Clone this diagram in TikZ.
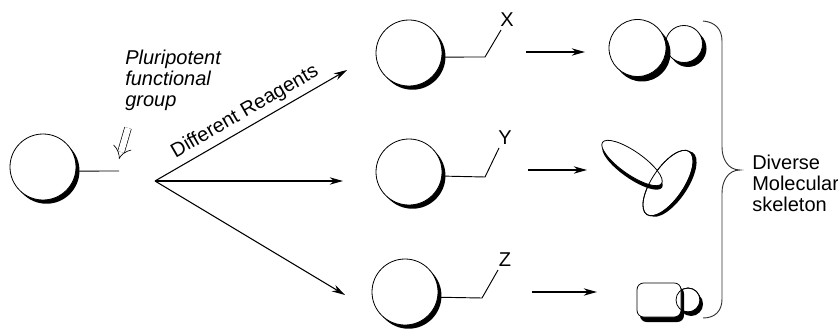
\documentclass[tikz,border=0pt]{standalone}
\usepackage{fontspec}
\setmainfont{Liberation Sans}
\usetikzlibrary{arrows.meta,shadows,shapes.geometric}
\tikzset{
	ball/.style={circle, draw, fill=white, inner sep=0pt, line width=0.6pt, minimum size=49.5pt,
		drop shadow={shadow xshift=2.6pt, shadow yshift=-2.8pt, opacity=1, fill=black}},
	link/.style={line width=0.7pt},
	react/.style={line width=0.8pt, -{Stealth[length=10pt, width=5.5pt]}},
	label/.style={inner sep=0pt, align=left, font=\fontsize{15}{15.8}\selectfont},
	outline/.style={line width=0.6pt}
}
\begin{document}
\begin{tikzpicture}[x=0.75pt, y=0.75pt]
	\useasboundingbox (0, 0) rectangle (838, 329);
	
	%%%%% START MATERIAL %%%%%
	\node[ball] (ballL) at (43, 162) {};
	\coordinate (stubL) at (119, 158);
	\draw[link] (ballL.-7) -- (stubL);
	
	\node[label, font=\fontsize{15}{15.8}\selectfont\itshape, anchor=north west] (pluri) at (125, 279) {Pluripotent\\functional\\group};
	\coordinate (pluriA) at (128, 201);
	\coordinate (pluriB) at (119, 170);
	\draw[line width=0.5pt, double, double distance=4.6pt, -{Implies}] (pluriA) -- (pluriB);
	
	%%%%% REAGENTS %%%%%
	\coordinate (hub) at (155, 148);
	\coordinate (tipX) at (347, 259);
	\coordinate (tipY) at (343, 148);
	\coordinate (tipZ) at (345, 34);
	\draw[react] (hub) -- (tipX);
	\draw[react, line width=1.1pt] (hub) -- (tipY);
	\draw[react] (hub) -- (tipZ);
	\node[label, rotate=30] (reagents) at (245, 217) {Different Reagents};
	
	%%%%% MIDDLE COLUMN %%%%%
	\node[ball] (ballX) at (409, 276) {};
	\coordinate (bendX) at (485, 272);
	\coordinate (endX) at (501, 299);
	\draw[link] (ballX.-7) -- (bendX) -- (endX);
	\node[label] (labX) at (507, 309) {X};
	
	\node[ball] (ballY) at (409, 157) {};
	\coordinate (bendY) at (485, 152);
	\coordinate (endY) at (499, 181);
	\draw[link] (ballY.-7) -- (bendY) -- (endY);
	\node[label] (labY) at (505, 191) {Y};
	
	\node[ball] (ballZ) at (405, 37) {};
	\coordinate (bendZ) at (482, 31);
	\coordinate (endZ) at (498, 59);
	\draw[link] (ballZ.-9) -- (bendZ) -- (endZ);
	\node[label] (labZ) at (505, 69) {Z};
	
	%%%%% ARROWS TO PRODUCTS %%%%%
	\coordinate (fromX) at (526, 277);
	\coordinate (toX) at (585, 277);
	\coordinate (fromY) at (528, 159);
	\coordinate (toY) at (587, 159);
	\coordinate (fromZ) at (532, 37);
	\coordinate (toZ) at (597, 37);
	\draw[react, line width=1.1pt] (fromX) -- (toX);
	\draw[react, line width=1.1pt] (fromY) -- (toY);
	\draw[react, line width=1.1pt] (fromZ) -- (toZ);
	
	%%%%% TOP PRODUCT %%%%%
	\fill (688, 280.5) circle (18.5);
	\draw[outline, fill=white] (684, 285) circle (18.5);
	\fill (642, 276) circle (28.5);
	\draw[outline, fill=white] (637.5, 281) circle (28.5);
	
	%%%%% MIDDLE PRODUCT %%%%%
	\fill (671.5, 145) ellipse [x radius=38, y radius=16, rotate=56];
	\draw[outline, fill=white] (668, 146) ellipse [x radius=38, y radius=16, rotate=56];
	\fill (632.5, 162) ellipse [x radius=36, y radius=11.5, rotate=-35];
	\draw[outline, fill=white] (632, 166) ellipse [x radius=36, y radius=11.5, rotate=-35];
	\draw[outline] (668, 146) ellipse [x radius=38, y radius=16, rotate=56];
	
	%%%%% BOTTOM PRODUCT %%%%%
	\fill (691, 25) circle (12);
	\draw[outline, fill=white] (688, 29) circle (12);
	\fill[rounded corners=5] (640, 7) rectangle (684, 42);
	\draw[outline, fill=white, rounded corners=5] (637, 12) rectangle (681, 46);
	\draw[outline] (688, 29) circle (12);
	
	%%%%% BRACE %%%%%
	\coordinate (braceTop) at (703, 308);
	\coordinate (braceTip) at (740, 159);
	\coordinate (braceEnd) at (703, 11);
	\draw[line width=0.7pt, black!80] (braceTop) .. controls (715, 307) and (722, 300) .. (722, 288) -- (722, 182)
		.. controls (722, 170) and (728, 159) .. (braceTip)
		.. controls (728, 159) and (722, 148) .. (722, 136) -- (722, 30)
		.. controls (722, 18) and (715, 11) .. (braceEnd);
	\node[label, anchor=west] (diverse) at (752, 146) {Diverse\\Molecular\\skeleton};
	%%%%% END %%%%%
\end{tikzpicture}
\end{document}
